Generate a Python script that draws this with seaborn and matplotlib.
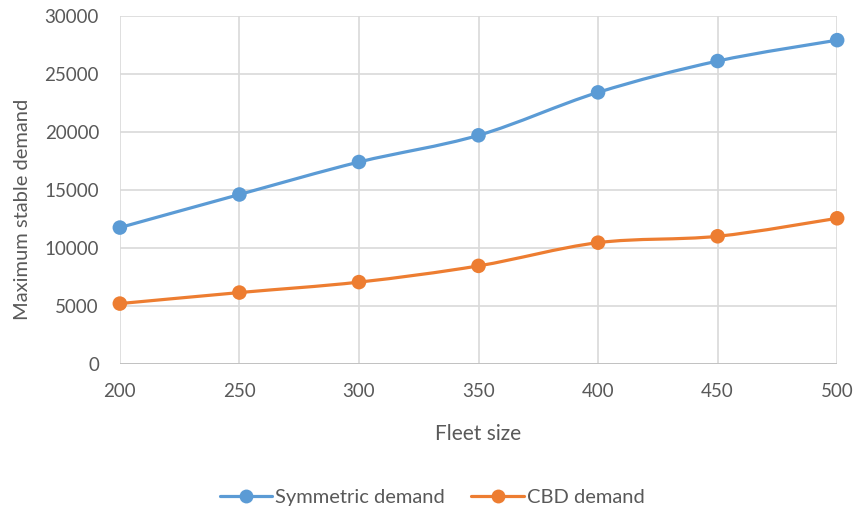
import numpy as np
import pandas as pd
import matplotlib
matplotlib.use("Agg")
import matplotlib.pyplot as plt
from matplotlib.path import Path
from matplotlib.patches import PathPatch
from matplotlib.lines import Line2D
import seaborn as sns

fleet_size = [200, 250, 300, 350, 400, 450, 500]
symmetric_demand = [11750, 14600, 17400, 19700, 23400, 26100, 27900]
cbd_demand = [5200, 6150, 7050, 8450, 10450, 11000, 12550]
series_names = ["Symmetric demand", "CBD demand"]
y_ticks = [0, 5000, 10000, 15000, 20000, 25000, 30000]

colors = ["#5B9BD5", "#ED7D31"]
text_color = "#595959"
grid_color = "#D9D9D9"

sns.set_theme(style="white")
plt.rcParams["font.family"] = ["Lato", "DejaVu Sans"]

df = pd.DataFrame({
    "Fleet size": fleet_size * 2,
    "demand": symmetric_demand + cbd_demand,
    "series": [series_names[0]] * len(fleet_size) + [series_names[1]] * len(fleet_size),
})

fig = plt.figure(figsize=(8.56, 5.09), dpi=100)
ax = fig.add_axes([0.140, 0.285, 0.838, 0.684])


def smooth_path(xs, ys):
    """Catmull-Rom style cubic Bezier through the given points."""
    pts = np.column_stack([xs, ys]).astype(float)
    n = len(pts)
    verts = [pts[0]]
    codes = [Path.MOVETO]
    for i in range(n - 1):
        p0 = pts[i - 1] if i > 0 else pts[i]
        p1 = pts[i]
        p2 = pts[i + 1]
        p3 = pts[i + 2] if i + 2 < n else pts[i + 1]
        c1 = p1 + (p2 - p0) / 6.0
        c2 = p2 - (p3 - p1) / 6.0
        verts += [c1, c2, p2]
        codes += [Path.CURVE4] * 3
    return Path(verts, codes)


for name, color in zip(series_names, colors):
    sub = df[df["series"] == name]
    ax.add_patch(PathPatch(smooth_path(sub["Fleet size"], sub["demand"]),
                           facecolor="none", edgecolor=color, lw=2.3,
                           capstyle="round", zorder=3))

sns.scatterplot(data=df, x="Fleet size", y="demand", hue="series",
                palette=colors, s=110, edgecolor="none", ax=ax,
                legend=False, zorder=4, clip_on=False)

ax.set_xlim(200, 500)
ax.set_ylim(0, 30000)
ax.set_xticks(fleet_size)
ax.set_yticks(y_ticks)
ax.set_xticklabels([str(v) for v in fleet_size])
ax.set_yticklabels([str(v) for v in y_ticks])
ax.grid(True, color=grid_color, lw=1.2)
ax.set_axisbelow(True)
for side in ax.spines.values():
    side.set_visible(False)
ax.axhline(0, color="#BFBFBF", lw=1.3, zorder=2)
ax.tick_params(axis="both", length=0, labelsize=13.5, colors=text_color)
ax.tick_params(axis="x", pad=14)
ax.tick_params(axis="y", pad=15)

ax.set_xlabel("Fleet size", fontsize=15, color=text_color)
ax.xaxis.set_label_coords(0.5, -0.172)
ax.set_ylabel("Maximum stable demand", fontsize=14.5, color=text_color)
ax.yaxis.set_label_coords(-0.124, 0.445)

handles = [Line2D([0], [0], color=c, lw=2.3, marker="o", markersize=10,
                  markeredgewidth=0) for c in colors]
fig.legend(handles, series_names, loc="center", bbox_to_anchor=(0.505, 0.022),
           ncol=2, frameon=False, fontsize=14.5, labelcolor=text_color,
           handlelength=2.6, handletextpad=0.15, columnspacing=1.3)

fig.savefig("out.png", dpi=100)
